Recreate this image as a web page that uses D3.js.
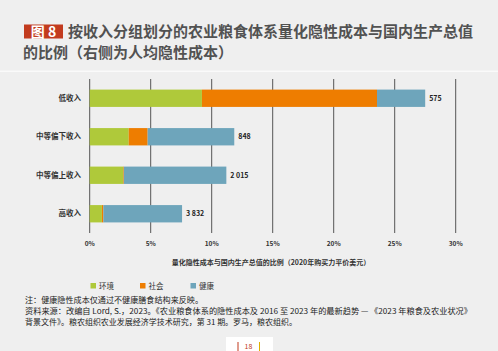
<!DOCTYPE html>
<html>
<head>
<meta charset="utf-8">
<script src="https://cdn.jsdelivr.net/npm/d3@7"></script>
<style>
  html, body { margin: 0; padding: 0; background: #efefef; }
  svg { display: block; font-family: "Noto Sans CJK SC", "Noto Sans", sans-serif; }
</style>
</head>
<body>
<div id="vis"></div>
<script>
// data
const categories = ['低收入', '中等偏下收入', '中等偏上收入', '高收入'];
const environment = [9.2, 3.2, 2.75, 1.0];
const social = [14.35, 1.55, 0.05, 0.12];
const health = [3.95, 7.1, 8.4, 6.45];
const perCapita = ['575', '848', '2 015', '3 832'];
const xTicks = [0, 5, 10, 15, 20, 25, 30];

const seriesKeys = ['env', 'soc', 'hea'];
const seriesNames = ['环境', '社会', '健康'];
const colors = new Map();
colors.set('env', '#afc93a');
colors.set('soc', '#ee7d00');
colors.set('hea', '#6ea5bb');

const width = 498, height = 351;

const rows = categories.map((c, i) => ({
  cat: c, env: environment[i], soc: social[i], hea: health[i], label: perCapita[i]
}));

const svg = d3.select('#vis').append('svg')
  .attr('width', width)
  .attr('height', height);

svg.append('rect').attr('width', width).attr('height', height).attr('fill', '#efefef');

// white separator under title
svg.append('rect').attr('x', 0).attr('y', 70.5).attr('width', width).attr('height', 1.5).attr('fill', '#fafafa');

// title
svg.append('rect')
  .attr('x', 24).attr('y', 24.5).attr('width', 39).attr('height', 14)
  .attr('fill', '#c23b1e');
svg.append('text')
  .attr('x', 43.5).attr('y', 36.5)
  .attr('text-anchor', 'middle')
  .attr('fill', '#fff')
  .style('font-size', '14px').style('font-weight', 'bold')
  .text('图 8');
svg.append('text')
  .attr('x', 68).attr('y', 37)
  .attr('fill', '#525252')
  .style('font-size', '15px').style('font-weight', 'bold')
  .text('按收入分组划分的农业粮食体系量化隐性成本与国内生产总值');
svg.append('text')
  .attr('x', 23).attr('y', 58)
  .attr('fill', '#525252')
  .style('font-size', '15px').style('font-weight', 'bold')
  .text('的比例（右侧为人均隐性成本）');

// scales
const x = d3.scaleLinear().domain([0, 30]).range([89.7, 455.7]);
const y = d3.scaleBand().domain(categories).range([79, 233])
  .paddingInner(0.55).paddingOuter(0.275);

// grid lines
svg.append('g')
  .selectAll('line')
  .data(xTicks)
  .join('line')
    .attr('x1', d => x(d)).attr('x2', d => x(d))
    .attr('y1', 79).attr('y2', 233)
    .attr('stroke', '#555')
    .attr('stroke-width', 1);

// stacked bars
const stack = d3.stack().keys(seriesKeys)(rows);
svg.append('g')
  .selectAll('g')
  .data(stack)
  .join('g')
    .attr('fill', d => colors.get(d.key))
  .selectAll('rect')
  .data(d => d)
  .join('rect')
    .attr('x', d => x(d[0]))
    .attr('y', d => y(d.data.cat))
    .attr('width', d => x(d[1]) - x(d[0]))
    .attr('height', y.bandwidth());

// per-capita labels
svg.append('g')
  .selectAll('text')
  .data(rows)
  .join('text')
    .attr('x', d => x(d.env + d.soc + d.hea) + 4)
    .attr('y', d => y(d.cat) + y.bandwidth() / 2)
    .attr('dy', '0.35em')
    .attr('fill', '#222')
    .style('font-size', '7px').style('font-weight', 'bold')
    .text(d => d.label);

// category labels
svg.append('g')
  .selectAll('text')
  .data(categories)
  .join('text')
    .attr('x', 81)
    .attr('y', d => y(d) + y.bandwidth() / 2)
    .attr('dy', '0.35em')
    .attr('text-anchor', 'end')
    .attr('fill', '#333')
    .style('font-size', '7.5px').style('font-weight', 'bold')
    .text(d => d);

// x tick labels
svg.append('g')
  .selectAll('text')
  .data(xTicks)
  .join('text')
    .attr('x', d => x(d))
    .attr('y', 246)
    .attr('text-anchor', 'middle')
    .attr('fill', '#333')
    .style('font-size', '6.5px').style('font-weight', 'bold')
    .text(d => d + '%');

svg.append('text')
  .attr('x', 271).attr('y', 265)
  .attr('text-anchor', 'middle')
  .attr('fill', '#333')
  .style('font-size', '7px').style('font-weight', 'bold')
  .text('量化隐性成本与国内生产总值的比例（2020年购买力平价美元）');

// legend
const legendX = [90.5, 140, 190.5];
const legend = svg.append('g')
  .selectAll('g')
  .data(seriesKeys)
  .join('g')
    .attr('transform', (d, i) => 'translate(' + legendX[i] + ',283)');
legend.append('rect')
  .attr('width', 5.5).attr('height', 5.5)
  .attr('fill', d => colors.get(d));
legend.append('text')
  .attr('x', 8.5).attr('y', 5.5)
  .attr('fill', '#333')
  .style('font-size', '7.5px')
  .text((d, i) => seriesNames[i]);

// notes
const notes = [
  '注：健康隐性成本仅通过不健康膳食结构来反映。',
  '资料来源：改编自 Lord, S.，2023。《农业粮食体系的隐性成本及 2016 至 2023 年的最新趋势 — 《2023 年粮食及农业状况》',
  '背景文件》。粮农组织农业发展经济学技术研究，第 31 期。罗马，粮农组织。'
];
const noteWidths = [178, 447, 272];
svg.append('g')
  .selectAll('text')
  .data(notes)
  .join('text')
    .attr('x', 25)
    .attr('y', (d, i) => 303 + i * 11.2)
    .attr('fill', '#222')
    .attr('textLength', (d, i) => noteWidths[i])
    .attr('lengthAdjust', 'spacingAndGlyphs')
    .style('font-size', '7.8px')
    .text(d => d);

// page number
svg.append('rect').attr('x', 226).attr('y', 337).attr('width', 47).attr('height', 14).attr('fill', '#fff');
svg.append('rect').attr('x', 237.5).attr('y', 342).attr('width', 1).attr('height', 9).attr('fill', '#c23b1e');
svg.append('rect').attr('x', 259).attr('y', 342).attr('width', 1).attr('height', 9).attr('fill', '#e0b000');
svg.append('text')
  .attr('x', 248.5).attr('y', 349)
  .attr('text-anchor', 'middle')
  .attr('fill', '#c23b1e')
  .style('font-size', '7px')
  .text('18');
</script>
</body>
</html>
